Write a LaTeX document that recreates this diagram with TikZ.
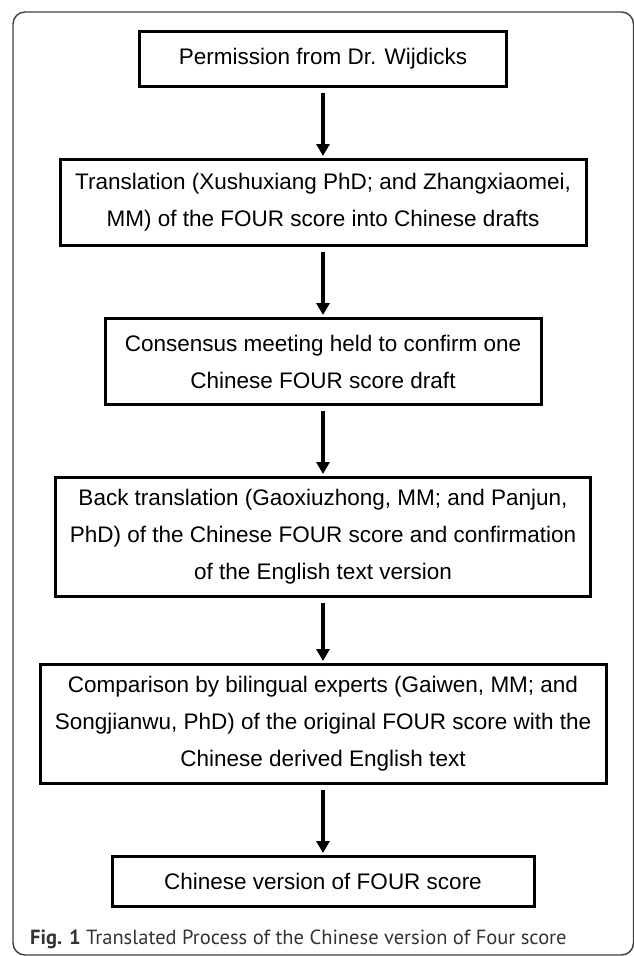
\documentclass[tikz,border=0pt]{standalone}
\usepackage{fontspec}
\setmainfont{Liberation Sans}
\newfontfamily\capfont{PT Sans}
\usetikzlibrary{arrows.meta, positioning}

\begin{document}
\begin{tikzpicture}[
x=1pt, y=1pt,
node distance=70pt,
stepbox/.style={draw, line width=3pt, rectangle, align=center, inner sep=0pt, font=\fontsize{22.5}{37}\selectfont},
arrow/.style={-{Triangle[width=13pt,length=12pt]}, line width=4.5pt, shorten <=4.5pt, shorten >=2pt}
]
\useasboundingbox (0,0) rectangle (634,-956);
\draw[line width=1.4pt, black!75, rounded corners=12pt] (13,-12) rectangle (633.5,-955);

\node[stepbox, minimum width=367pt, minimum height=55pt] (permission) at (323,-59) {Permission from Dr. Wijdicks};
\node[stepbox, minimum width=526pt, minimum height=86pt] (translation) [below=of permission] {Translation (Xushuxiang PhD; and Zhangxiaomei,\\MM) of the FOUR score into Chinese drafts};
\node[stepbox, minimum width=436pt, minimum height=86pt] (consensus) [below=of translation] {Consensus meeting held to confirm one\\Chinese FOUR score draft};
\node[stepbox, minimum width=535pt, minimum height=119pt] (backtrans) [below=of consensus] {Back translation (Gaoxiuzhong, MM; and Panjun,\\PhD) of the Chinese FOUR score and confirmation\\of the English text version};
\node[stepbox, minimum width=566pt, minimum height=119pt] (comparison) [below=65pt of backtrans] {Comparison by bilingual experts (Gaiwen, MM; and\\Songjianwu, PhD) of the original FOUR score with the\\Chinese derived English text};
\node[stepbox, minimum width=422pt, minimum height=50pt] (version) [below=of comparison] {Chinese version of FOUR score};

\draw[arrow] (permission) -- (translation);
\draw[arrow] (translation) -- (consensus);
\draw[arrow] (consensus) -- (backtrans);
\draw[arrow] (backtrans) -- (comparison);
\draw[arrow] (comparison) -- (version);

\node[anchor=base west, inner sep=0pt, text=black!80, font=\capfont\fontsize{20.5}{24}\selectfont] (caption) at (30,-944) {\textbf{Fig. 1} Translated Process of the Chinese version of Four score};

\end{tikzpicture}
\end{document}
